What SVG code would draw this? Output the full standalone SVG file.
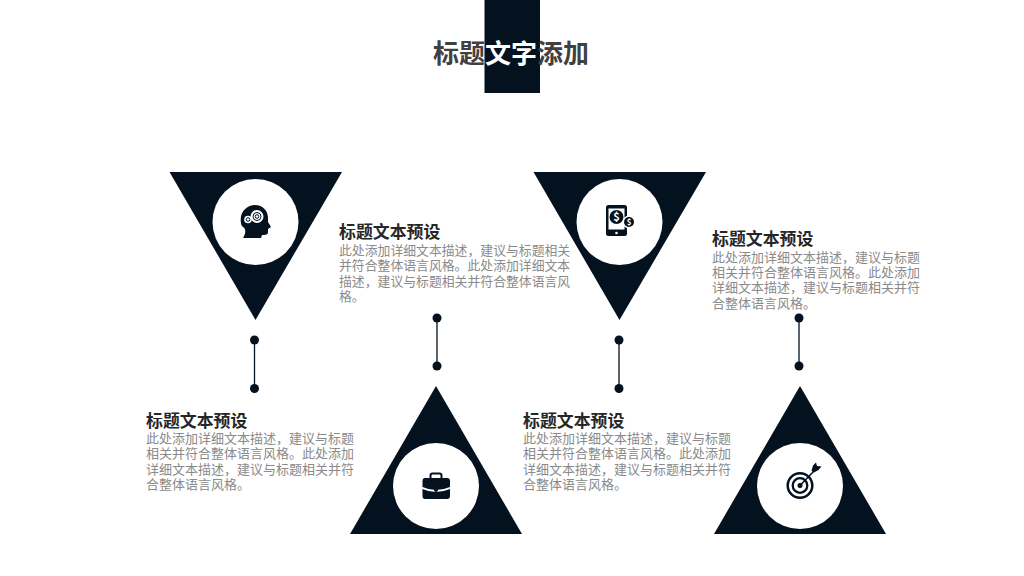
<svg xmlns="http://www.w3.org/2000/svg" width="1024" height="576" viewBox="0 0 1024 576">
<style>
text{font-family:"Noto Sans CJK SC","Liberation Sans",sans-serif}
.d{fill:#04121f}
.w{fill:#fff}
.t{font-size:26px;font-weight:700;fill:#404040}
.h{font-size:16.9px;font-weight:700;fill:#262626}
.b{font-size:13px;fill:#8a8a8a}
.n{font-size:12.85px;fill:#8a8a8a}
.l{stroke:#04121f;stroke-width:1.300;fill:none}
.r{fill:none;stroke:#04121f}
</style>
<rect width="1024" height="576" fill="#fff"/>
<g id="title">
<rect class="d" x="484.500" y="0" width="55.500" height="93"/>
<text class="t" x="433" y="63">标题<tspan fill="#fff">文字</tspan>添加</text>
</g>
<g id="connectors">
<g class="d"><circle cx="254.500" cy="340" r="4.500"/><circle cx="254.500" cy="388.500" r="4.500"/><circle cx="437" cy="318" r="4.500"/><circle cx="437" cy="366" r="4.500"/><circle cx="619" cy="340" r="4.500"/><circle cx="619" cy="388.500" r="4.500"/><circle cx="799" cy="318" r="4.500"/><circle cx="799" cy="366" r="4.500"/></g>
<path class="l" d="M254.500 340V388.500M437 318V366M619 340V388.500M799 318V366"/>
</g>
<g id="node-1">
<polygon class="d" points="169.500,172 342,172 255.500,320"/>
<circle class="w" cx="255.500" cy="222" r="43"/>
<path class="d" d="M241 223C239 212 247 205 255 205C263 205 268 211 268 218C268 220 268 221 268 222L271 227L268 229L268 232C268 235 265 235 262 235L261 238L243 238C246 233 246 229 243 227C242 226 241 225 241 223Z"/>
<g fill="#fff"><circle cx="257" cy="216.500" r="6.500"/><circle cx="248" cy="219.500" r="3.800"/></g>
<g class="r" stroke-width="1"><circle cx="257" cy="216.500" r="4"/><circle cx="257" cy="216.500" r="1.800"/><circle cx="248" cy="219.500" r="1.800"/></g>
</g>
<g id="node-2">
<polygon class="d" points="533.500,172 706,172 619.500,320"/>
<circle class="w" cx="619.500" cy="222" r="43"/>
<rect class="d" x="606" y="205" width="21" height="31" rx="2.500"/>
<rect class="w" x="608.500" y="208.500" width="16" height="21"/>
<circle class="d" cx="616.500" cy="217" r="7"/>
<circle class="w" cx="629" cy="222" r="6.500"/>
<circle class="d" cx="629" cy="222" r="5"/>
<circle class="w" cx="616.500" cy="233" r="1.300"/>
<text x="616.500" y="221" font-size="11" font-weight="700" text-anchor="middle" fill="#fff">$</text>
<text x="629" y="225" font-size="8" font-weight="700" text-anchor="middle" fill="#fff">$</text>
</g>
<g id="node-3">
<polygon class="d" points="350,534 522,534 436,386"/>
<circle class="w" cx="436" cy="486" r="43"/>
<path class="r" stroke-width="2" d="M430.500 479V475.500Q430.500 473.500 432.500 473.500H439.500Q441.500 473.500 441.500 475.500V479"/>
<path class="d" d="M425 478H447Q450 478 450 481V487Q443 490 436 490Q429 490 422.500 487V481Q422.500 478 425 478Z"/>
<path class="d" d="M422.500 489Q429 492 436 492Q443 492 450 489V496Q450 499 447 499H425Q422.500 499 422.500 496Z"/>
<circle class="d" cx="436" cy="490" r="2"/>
</g>
<g id="node-4">
<polygon class="d" points="714,534 886,534 800,386"/>
<circle class="w" cx="800" cy="486" r="43"/>
<circle class="r" cx="800" cy="485.500" r="12.300" stroke-width="2.500"/>
<circle class="r" cx="800" cy="485.500" r="7.300" stroke-width="2.300"/>
<circle class="d" cx="800" cy="485.500" r="2.500"/>
<path class="r" stroke-width="1.500" d="M800 485.500L814 471"/>
<path class="d" d="M811.500 471L813 465.500L816 462.500L817 466L821.500 466.500L818.500 470L814 472.500Z"/>
</g>
<text id="text-1" x="146"><tspan class="h" x="146" y="426.500">标题文本预设</tspan><tspan class="b" x="146" y="443">此处添加详细文本描述，建议与标题</tspan><tspan class="b" x="146" y="458">相关并符合整体语言风格。此处添加</tspan><tspan class="b" x="146" y="473.500">详细文本描述，建议与标题相关并符</tspan><tspan class="b" x="146" y="489">合整体语言风格。</tspan></text>
<text id="text-2" x="339"><tspan class="h" x="339" y="238">标题文本预设</tspan><tspan class="n" x="339" y="254.500">此处添加详细文本描述，建议与标题相关</tspan><tspan class="n" x="339" y="270">并符合整体语言风格。此处添加详细文本</tspan><tspan class="n" x="339" y="285.500">描述，建议与标题相关并符合整体语言风</tspan><tspan class="n" x="339" y="301">格。</tspan></text>
<text id="text-3" x="523"><tspan class="h" x="523" y="426.500">标题文本预设</tspan><tspan class="b" x="523" y="443">此处添加详细文本描述，建议与标题</tspan><tspan class="b" x="523" y="458">相关并符合整体语言风格。此处添加</tspan><tspan class="b" x="523" y="473.500">详细文本描述，建议与标题相关并符</tspan><tspan class="b" x="523" y="489">合整体语言风格。</tspan></text>
<text id="text-4" x="712"><tspan class="h" x="712" y="245">标题文本预设</tspan><tspan class="b" x="712" y="261.500">此处添加详细文本描述，建议与标题</tspan><tspan class="b" x="712" y="276.500">相关并符合整体语言风格。此处添加</tspan><tspan class="b" x="712" y="292">详细文本描述，建议与标题相关并符</tspan><tspan class="b" x="712" y="307.500">合整体语言风格。</tspan></text>
</svg>
